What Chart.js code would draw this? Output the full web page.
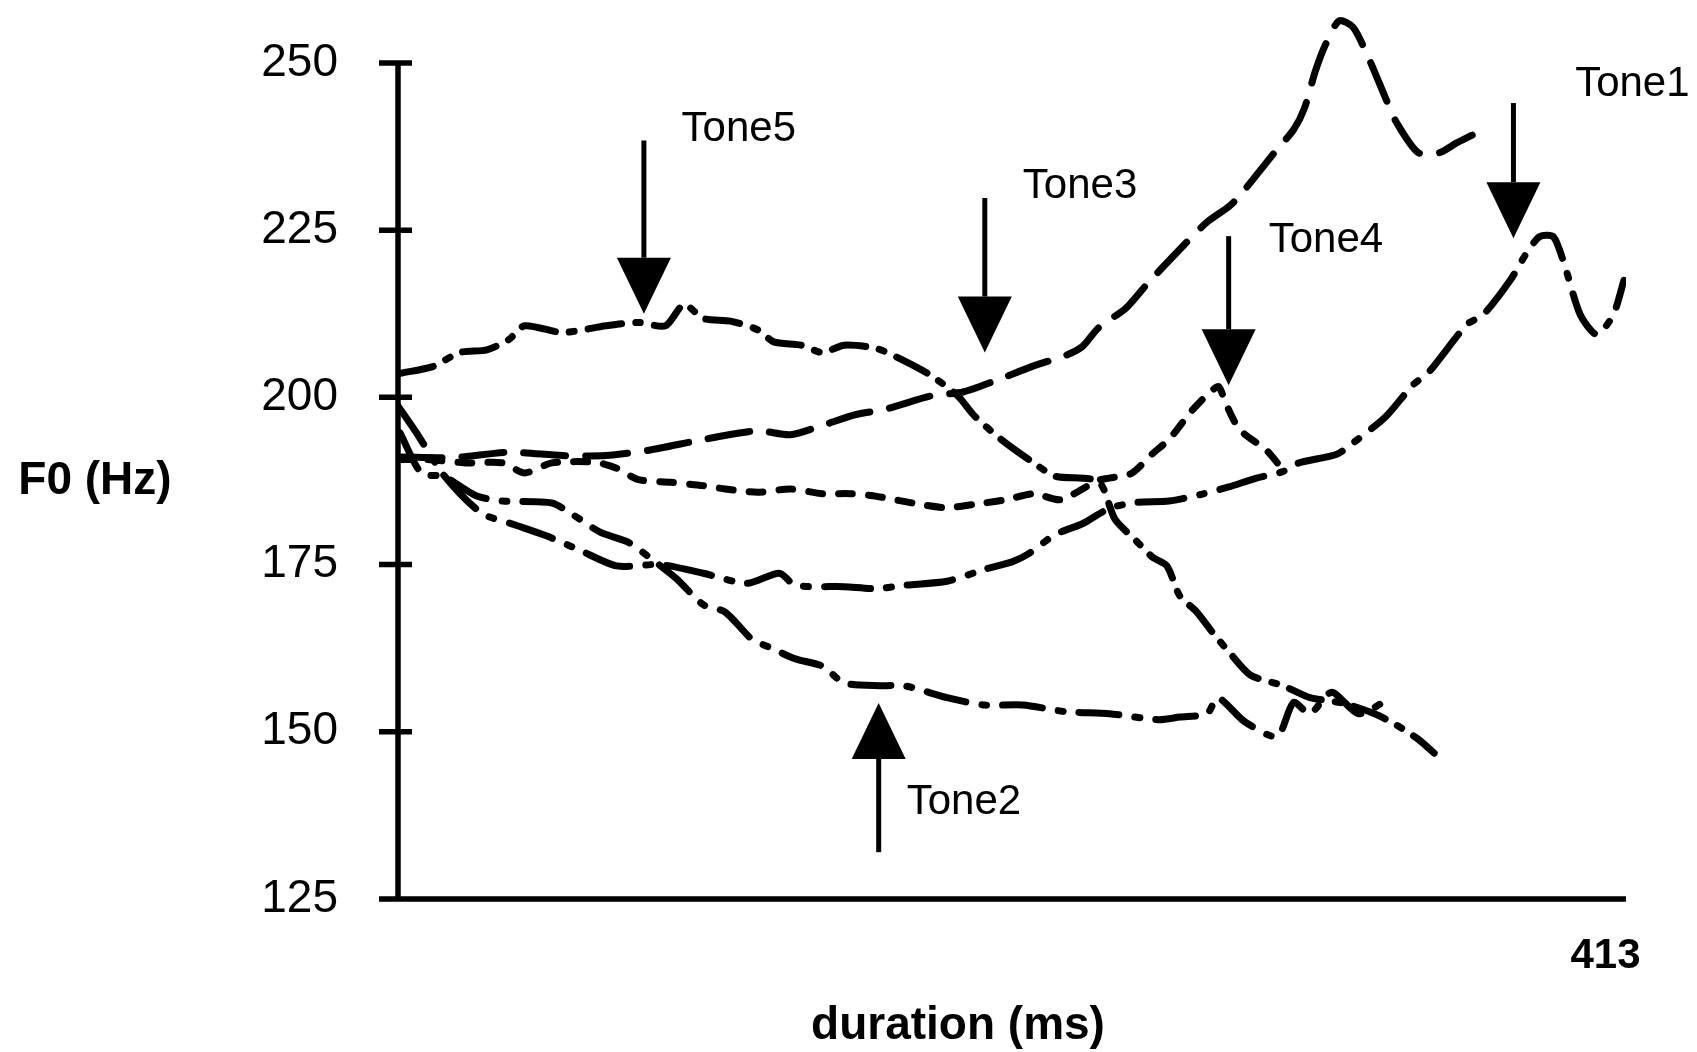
<!DOCTYPE html>
<html>
<head>
<meta charset="utf-8">
<script src="https://cdn.jsdelivr.net/npm/chart.js@4.4.0/dist/chart.umd.min.js"></script>
<style>
html, body { margin: 0; padding: 0; background: #fff; }
</style>
</head>
<body>
<canvas id="f0Chart" width="1697" height="1052"></canvas>
<script>
// F0 contours: duration (ms) / F0 (Hz)
const tone5Ms = [0.7, 11.9, 21.1, 30.4, 37.8, 43.3, 56.3, 71.1, 82.2, 91.5, 97.8, 104.4, 113.7, 123, 128.5, 137.8, 145.2, 152.6, 163.7, 173, 182.2, 191.5, 197, 206.3, 217.4, 224.8, 239.6, 245.2, 252.6, 258.1, 263, 267.4, 273, 278.5, 284.1, 291.5, 302.6, 311.9, 323, 334, 341.5, 348.9, 354.4];
const tone5Hz = [203.6, 204.6, 206.7, 207.1, 208.6, 210.7, 209.7, 210.7, 211.2, 210.7, 213.9, 211.8, 211.4, 210.1, 208.3, 207.8, 206.7, 207.8, 207.3, 205.5, 203.3, 200.2, 197.3, 193.7, 190.2, 188.2, 187.4, 181.8, 178.5, 176.1, 174.8, 170.3, 168, 164.9, 162, 158.5, 156.9, 155.1, 154.3, 152.7, 151, 148.9, 146.8];

const tone3Ms = [0.7, 19.3, 37.8, 56.3, 71.1, 85.9, 104.4, 123, 134.1, 145.2, 156.3, 167.4, 182.2, 193.3, 204.4, 217.4, 228.5, 234.1, 239.6, 248.9, 256.3, 269.3, 276.7, 284.1, 287.8, 297, 300.7, 306.3, 310, 313.7, 317.4, 321.9, 326.7, 332.2, 337.8, 341.5, 348.9, 356.3, 361.9, 367.4];
const tone3Hz = [191.1, 191, 191.8, 191.3, 191.3, 192.1, 193.7, 195, 194.4, 195.8, 197.4, 198.3, 200.2, 200.8, 202.5, 204.7, 206.3, 207.6, 210.4, 213.3, 217, 223, 226.2, 228.5, 230.1, 235.1, 237.1, 240, 243.2, 248.7, 252.9, 256.3, 255.3, 250.5, 244.7, 241.1, 236.6, 236.6, 238, 239.2];

const tone1Ms = [0, 6.3, 15.6, 28.5, 39.6, 50.7, 61.9, 74.8, 89.6, 104.4, 119.3, 130.4, 135.9, 152.6, 163.7, 173, 187.8, 200.7, 210, 215.6, 224.8, 234.1, 243.3, 252.6, 263.7, 274.8, 284.1, 293.3, 302.6, 308.1, 321.1, 326.7, 337.8, 347, 352.6, 365.6, 371.1, 380.4, 385.9, 390.4, 395.2, 398.9, 404.4, 410, 415.6, 419.3];
const tone1Hz = [198.7, 194.7, 188.4, 182.7, 181, 179.3, 177.2, 174.8, 175, 173.7, 172.2, 173.7, 171.9, 171.7, 171.4, 171.9, 172.5, 174.3, 175.4, 176.6, 179.5, 181.1, 183.4, 184.3, 184.5, 185.5, 186.6, 187.9, 188.9, 190.2, 191.5, 193.2, 197.1, 201.8, 203.8, 210.9, 212.3, 217.5, 221.5, 224, 224, 219.9, 212.3, 209.4, 212.3, 217.5];

const tone4Ms = [0, 10, 23, 35.9, 43.3, 52.6, 67.4, 74.8, 82.2, 93.3, 104.4, 111.9, 123, 134.1, 145.2, 154.4, 163.7, 178.5, 187.8, 197, 208.1, 217.4, 226.7, 239.6, 250.7, 258.1, 263.7, 271.1, 277.8, 280.7, 283, 287.8, 297, 301.5];
const tone4Hz = [190.7, 190.7, 190.2, 190.2, 188.7, 190.2, 190.3, 189.4, 187.7, 187.3, 186.8, 186.3, 185.8, 186.3, 185.6, 185.6, 185.2, 184, 183.5, 184, 184.7, 185.6, 184.7, 187.6, 188.6, 191.6, 193.7, 197.8, 200.8, 201.6, 199.2, 195.2, 192.1, 189.8];

const tone2Ms = [0.7, 8.1, 15.6, 26.7, 35.9, 52.6, 60, 69.3, 78.5, 85.9, 95.2, 104.4, 111.9, 121.1, 126.7, 135.9, 145.2, 152.6, 165.6, 173, 187.8, 200.7, 213.7, 228.5, 243.3, 260, 267.4, 276.7, 280.4, 289.6, 300.7, 306.3, 311.9, 319.3, 328.5, 337.8];
const tone2Hz = [194.7, 188.6, 188.2, 185.3, 184.5, 184.2, 182.4, 179.8, 178.4, 176.1, 172.9, 169, 167.9, 163.8, 162.7, 160.9, 159.8, 157.3, 156.9, 156.9, 155.1, 154, 154, 153, 152.7, 151.8, 152.2, 152.7, 155.1, 151.5, 149.3, 154.4, 152.7, 155.9, 152.7, 154.6];

const yTickValues = [125, 150, 175, 200, 225, 250];
const xTickValues = [413];

// arrow annotations: label, arrow x (ms), tail / tip (Hz), label anchor (ms, Hz)
const toneNames = ['Tone5', 'Tone3', 'Tone4', 'Tone1', 'Tone2'];
const arrowMs   = [84.1, 200.7, 284.1, 381.5, 164.4];
const arrowTail = [238.4, 229.8, 224.1, 244, 132];
const arrowTip  = [212.5, 206.7, 201.8, 223.8, 154.3];
const labelMs   = [97, 213.7, 297.8, 402.6, 174];
const labelHz   = [240.1, 231.6, 223.5, 246.8, 139.4];

const FONT = '"Liberation Sans", Arial, sans-serif';

function pts(xs, ys) {
    return xs.map((x, i) => ({ x: x, y: ys[i] }));
}

function contour(label, xs, ys, dash) {
    return {
        label: label,
        data: pts(xs, ys),
        borderColor: '#000',
        borderWidth: 7,
        borderDash: dash,
        borderCapStyle: 'round',
        borderJoinStyle: 'round',
        pointRadius: 0,
        tension: 0.25,
        fill: false
    };
}

// axes, arrows and free text
const figurePlugin = {
    id: 'figure',
    afterDraw(chart) {
        const ctx = chart.ctx;
        const xs = chart.scales.x;
        const ys = chart.scales.y;
        const x0 = xs.getPixelForValue(0);
        const yBottom = ys.getPixelForValue(125);
        const yTop = ys.getPixelForValue(250);
        ctx.save();
        ctx.strokeStyle = '#000';
        ctx.fillStyle = '#000';
        ctx.lineWidth = 5.5;
        ctx.lineCap = 'butt';
        ctx.beginPath();
        ctx.moveTo(x0, yTop);
        ctx.lineTo(x0, yBottom);
        ctx.moveTo(x0 - 14, yBottom);
        ctx.lineTo(xs.getPixelForValue(420), yBottom);
        yTickValues.forEach(v => {
            const y = ys.getPixelForValue(v);
            ctx.moveTo(x0 - 19, y);
            ctx.lineTo(x0 + 14, y);
        });
        ctx.stroke();

        // arrows
        ctx.lineWidth = 5;
        toneNames.forEach((name, i) => {
            const ax = xs.getPixelForValue(arrowMs[i]);
            const tail = ys.getPixelForValue(arrowTail[i]);
            const tip = ys.getPixelForValue(arrowTip[i]);
            const dir = tip > tail ? 1 : -1;
            const headLen = 56, headHalf = 27;
            ctx.beginPath();
            ctx.moveTo(ax, tail);
            ctx.lineTo(ax, tip - dir * headLen);
            ctx.stroke();
            ctx.beginPath();
            ctx.moveTo(ax - headHalf, tip - dir * headLen);
            ctx.lineTo(ax + headHalf, tip - dir * headLen);
            ctx.lineTo(ax, tip);
            ctx.closePath();
            ctx.fill();

            ctx.font = '42px ' + FONT;
            ctx.textAlign = 'left';
            ctx.textBaseline = 'middle';
            ctx.fillText(name, xs.getPixelForValue(labelMs[i]), ys.getPixelForValue(labelHz[i]));
        });

        // axis titles
        ctx.font = 'bold 46px ' + FONT;
        ctx.textAlign = 'center';
        ctx.textBaseline = 'middle';
        ctx.fillText('F0 (Hz)', 95, 481);
        ctx.fillText('duration (ms)', 958, 1026);
        ctx.restore();
    }
};

new Chart(document.getElementById('f0Chart').getContext('2d'), {
    type: 'line',
    data: {
        datasets: [
            contour('Tone5', tone5Ms, tone5Hz, [34, 14, 5, 14]),
            contour('Tone3', tone3Ms, tone3Hz, [42, 20]),
            contour('Tone1', tone1Ms, tone1Hz, [46, 16, 5, 16]),
            contour('Tone4', tone4Ms, tone4Hz, [14, 16]),
            contour('Tone2', tone2Ms, tone2Hz, [40, 16, 5, 16])
        ]
    },
    options: {
        responsive: false,
        devicePixelRatio: 1,
        animation: false,
        layout: { padding: { top: 9.4, right: 71, bottom: 0, left: 0 } },
        scales: {
            x: {
                type: 'linear',
                min: 0,
                max: 420,
                grid: { display: false, drawTicks: false },
                border: { display: false },
                afterBuildTicks: s => { s.ticks = xTickValues.map(v => ({ value: v })); },
                afterFit: s => { s.height = 153; s.paddingLeft = 0; s.paddingRight = 0; },
                ticks: {
                    color: '#000',
                    padding: 32,
                    maxRotation: 0,
                    font: { family: FONT, size: 42, weight: 'bold' }
                }
            },
            y: {
                min: 125,
                max: 258,
                grid: { display: false, drawTicks: false },
                border: { display: false },
                afterBuildTicks: s => { s.ticks = yTickValues.map(v => ({ value: v })); },
                afterFit: s => { s.width = 398; s.paddingTop = 0; s.paddingBottom = 0; },
                ticks: {
                    color: '#000',
                    padding: 60,
                    font: { family: FONT, size: 46 }
                }
            }
        },
        plugins: {
            legend: { display: false },
            tooltip: { enabled: false }
        }
    },
    plugins: [figurePlugin]
});
</script>
</body>
</html>
